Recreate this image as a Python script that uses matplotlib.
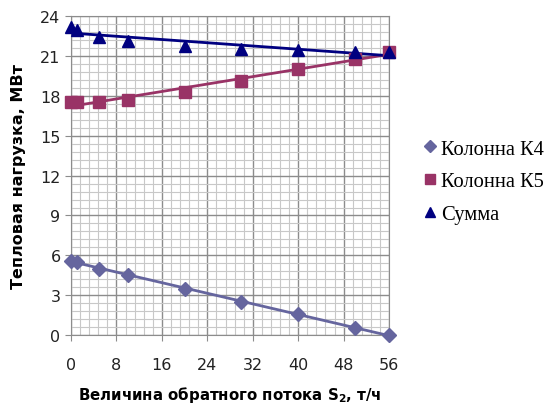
import matplotlib
matplotlib.use("Agg")
import matplotlib.pyplot as plt
from matplotlib.ticker import MultipleLocator
from matplotlib.lines import Line2D
import numpy as np

# обратный поток S2, т/ч
s2 = [0, 1, 5, 10, 20, 30, 40, 50, 56]
k4 = [5.6, 5.5, 5.0, 4.5, 3.5, 2.5, 1.6, 0.55, 0.0]
k5 = [17.5, 17.5, 17.5, 17.7, 18.3, 19.1, 20.0, 20.8, 21.3]
total = [23.2, 22.95, 22.45, 22.1, 21.75, 21.55, 21.45, 21.3, 21.3]

series_names = ["Колонна К4", "Колонна К5", "Сумма"]
x_ticks = [0, 8, 16, 24, 32, 40, 48, 56]
y_ticks = [0, 3, 6, 9, 12, 15, 18, 21, 24]

colors = ["#65659E", "#993366", "#000080"]
markers = ["D", "s", "^"]
msizes = [7, 9, 9]

fig = plt.figure(figsize=(5.55, 4.06), dpi=100)
ax = fig.add_axes([0.128, 0.172, 0.573, 0.786])

x = np.array(s2, dtype=float)
xx = np.array([x.min(), x.max()])
for vals, c, m, ms in zip([k4, k5, total], colors, markers, msizes):
    # линейный тренд (как в Excel)
    p = np.polyfit(x, vals, 1)
    ax.plot(xx, np.polyval(p, xx), color=c, linewidth=2, zorder=3)
    ax.plot(x, vals, linestyle="none", marker=m, color=c, markersize=ms, zorder=4, clip_on=False)

ax.set_xlim(0, 56)
ax.set_ylim(0, 24)
ax.set_xticks(x_ticks)
ax.set_yticks(y_ticks)
ax.xaxis.set_minor_locator(MultipleLocator(1.6))
ax.yaxis.set_minor_locator(MultipleLocator(0.6))
ax.grid(which="major", color="#8c8c8c", linewidth=1.0, zorder=0)
ax.grid(which="minor", color="#c8c8c8", linewidth=0.8, zorder=0)
ax.set_axisbelow(True)
for sp in ax.spines.values():
    sp.set_color("#8c8c8c")
ax.tick_params(which="major", length=4, color="#8c8c8c", labelsize=11.5, labelcolor="#222222")
ax.tick_params(axis="x", pad=12)
ax.tick_params(which="minor", length=0)

ax.set_xlabel("Величина обратного потока S$_\\mathbf{2}$, т/ч", fontsize=10.8, fontweight="bold", labelpad=8)
ax.set_ylabel("Тепловая нагрузка, МВт", fontsize=11.5, fontweight="bold", labelpad=10)

handles = [Line2D([], [], linestyle="none", marker=m, color=c, markersize=ms * 0.85)
           for c, m, ms in zip(colors, markers, msizes)]
fig.legend(handles, series_names, loc="center left", bbox_to_anchor=(0.73, 0.55),
           frameon=False, prop={"family": "Liberation Serif", "size": 14.8},
           handlelength=0.6, handletextpad=0.25, labelspacing=0.65)

fig.savefig("out.png", dpi=100)
